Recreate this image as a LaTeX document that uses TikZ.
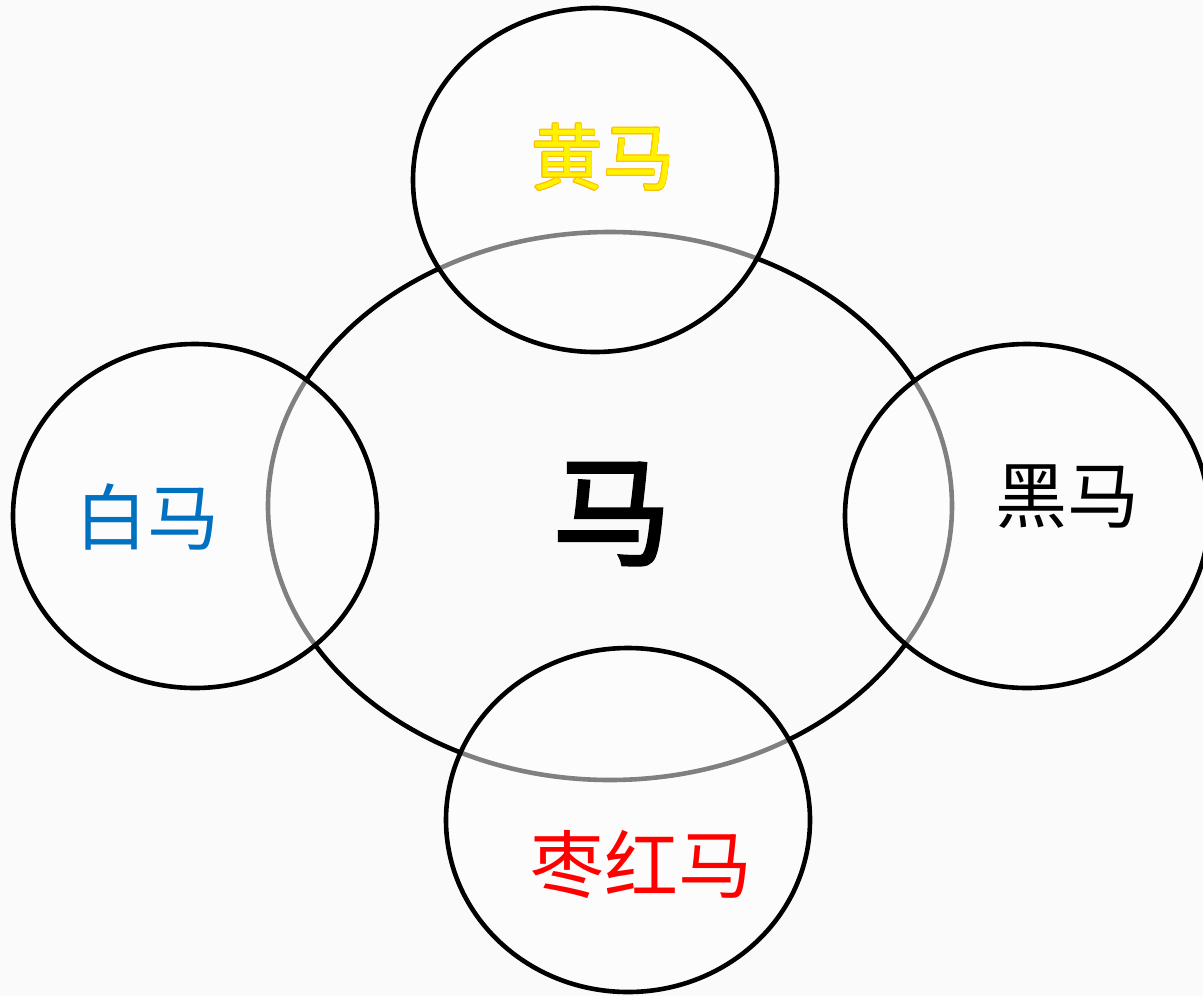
\documentclass[tikz,border=0pt]{standalone}
\usepackage{fontspec}
\usepackage{contour}
\newfontfamily\cjk{Noto Sans CJK SC}
\newfontfamily\cjkb{Noto Sans CJK SC}[FakeBold=3]
\definecolor{bg}{HTML}{FAFAFA}
\definecolor{hyellow}{HTML}{FFF200}
\definecolor{hgold}{HTML}{FFC000}
\definecolor{hblue}{HTML}{0070C0}
\definecolor{hred}{HTML}{FF0000}
\contourlength{0.9pt}
\begin{document}
\begin{tikzpicture}[x=1pt,y=-1pt,
  ring/.style={draw=black, line width=4.6pt},
  smallring/.style={ring, fill=white, fill opacity=0.5},
  lbl/.style={inner sep=0pt, font=\cjk}]
\fill[bg] (0,0) rectangle (1203,996);
\useasboundingbox (0,0) rectangle (1203,996);
\draw[ring] (610,506) ellipse [x radius=342, y radius=274];
\draw[smallring] (595,180) ellipse [x radius=182, y radius=172];
\draw[smallring] (195,516) ellipse [x radius=182, y radius=172];
\draw[smallring] (1027,516) ellipse [x radius=182, y radius=172];
\draw[smallring] (628,820) ellipse [x radius=182, y radius=172];
\node[lbl, font=\cjkb\fontsize{118}{118}\selectfont] (ma) at (612,514) {马};
\node[lbl, font=\cjk\fontsize{72}{72}\selectfont] (huang) at (603,158) {\contour{hgold}{\textcolor{hyellow}{黄马}}};
\node[lbl, font=\cjk\fontsize{72}{72}\selectfont, text=hblue] (bai) at (147,517) {白马};
\node[lbl, font=\cjk\fontsize{72}{72}\selectfont, text=black] (hei) at (1067,497) {黑马};
\node[lbl, font=\cjk\fontsize{74}{74}\selectfont, text=hred] (zao) at (641,864) {枣红马};
\end{tikzpicture}
\end{document}
